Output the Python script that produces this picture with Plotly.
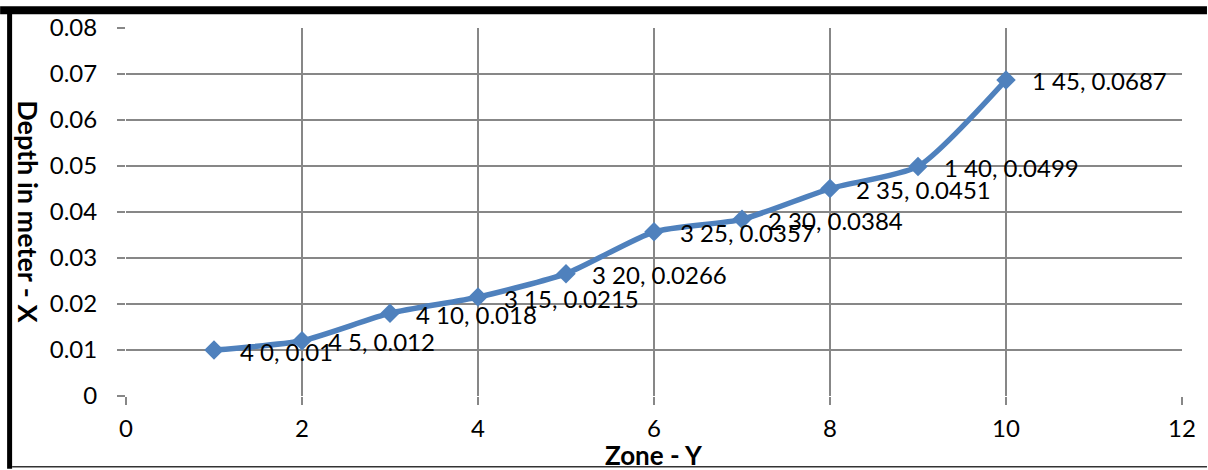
import plotly.graph_objects as go

# Depth profile along the zones
zone = [1, 2, 3, 4, 5, 6, 7, 8, 9, 10]
group = [4, 4, 4, 3, 3, 3, 2, 2, 1, 1]
step = [0, 5, 10, 15, 20, 25, 30, 35, 40, 45]
depth = [0.01, 0.012, 0.018, 0.0215, 0.0266, 0.0357, 0.0384, 0.0451, 0.0499, 0.0687]

x_ticks = [0, 2, 4, 6, 8, 10, 12]
y_ticks = [0, 0.01, 0.02, 0.03, 0.04, 0.05, 0.06, 0.07, 0.08]

LINE = "#4F81BD"
GRID = "#878787"
FONT = "Lato, 'Open Sans', sans-serif"

labels = [f"{g} {s}, {d:g}" for g, s, d in zip(group, step, depth)]

fig = go.Figure()
fig.add_trace(go.Scatter(
    x=zone, y=depth, mode="lines+markers",
    line=dict(color=LINE, width=5.5, shape="spline", smoothing=0.6),
    marker=dict(symbol="diamond", size=15, color=LINE),
    hoverinfo="skip", showlegend=False,
))

for xv, yv, t in zip(zone, depth, labels):
    fig.add_annotation(
        x=xv, y=yv, text=t, showarrow=False, xanchor="left", yanchor="middle",
        xshift=24, yshift=-1, font=dict(family=FONT, size=24, color="#000000"),
    )

# axis titles
fig.add_annotation(
    x=0.5, y=-0.16, xref="paper", yref="paper", text="<b>Zone - Y</b>",
    showarrow=False, xanchor="center", yanchor="middle",
    font=dict(family=FONT, size=26, color="#000000"),
)
fig.add_annotation(
    x=-0.092, y=0.5, xref="paper", yref="paper", text="<b>Depth in meter - X</b>",
    showarrow=False, textangle=90, xanchor="center", yanchor="middle",
    font=dict(family=FONT, size=27, color="#000000"),
)

axis_common = dict(
    showgrid=True, gridcolor=GRID, gridwidth=1.8,
    showline=False, zeroline=False,
    ticks="outside", ticklen=8, tickwidth=1.8, tickcolor=GRID,
    tickfont=dict(family=FONT, size=24, color="#000000"),
)

fig.update_xaxes(range=[0, 12], tickvals=x_ticks, ticktext=[str(v) for v in x_ticks],
                 ticklabelstandoff=3, **axis_common)
fig.update_yaxes(range=[0, 0.08], tickvals=y_ticks,
                 ticktext=["0" if v == 0 else f"{v:.2f}" for v in y_ticks],
                 ticklabelstandoff=15, **axis_common)

# frame: heavy bar on top, rule on the left, thin rule at the bottom
plot_w, plot_h = 1208 - 126 - 25, 470 - 22 - 74
def px(v):
    return (v - 126) / plot_w
def py(v):
    return (396 - v) / plot_h

fig.add_shape(type="rect", xref="paper", yref="paper",
              x0=px(0), x1=px(1208), y0=py(8), y1=py(0),
              fillcolor="#000000", line_width=0, layer="above")
fig.add_shape(type="rect", xref="paper", yref="paper",
              x0=px(7), x1=px(12), y0=py(470), y1=py(7),
              fillcolor="#000000", line_width=0, layer="above")
fig.add_shape(type="line", xref="paper", yref="paper",
              x0=px(12), x1=px(1208), y0=py(468), y1=py(468),
              line=dict(color="#333333", width=1.5), layer="above")

fig.update_layout(
    width=1208, height=470,
    margin=dict(l=126, r=25, t=22, b=74),
    paper_bgcolor="#FFFFFF", plot_bgcolor="#FFFFFF",
    font=dict(family=FONT),
)

fig.write_html("out.html")
